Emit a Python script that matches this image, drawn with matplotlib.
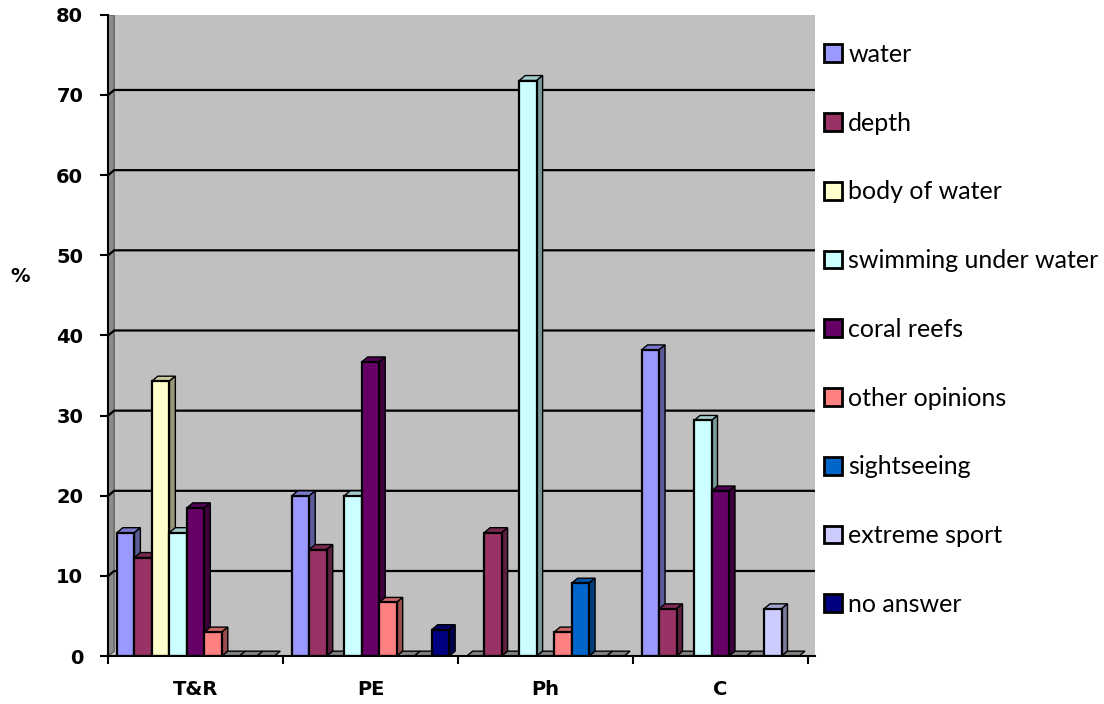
import matplotlib.pyplot as plt
import matplotlib.colors as mcolors
from matplotlib.patches import Polygon, Rectangle
import numpy as np

# data
categories = ["T&R", "PE", "Ph", "C"]
series = ["water", "depth", "body of water", "swimming under water", "coral reefs",
          "other opinions", "sightseeing", "extreme sport", "no answer"]
water = [15.4, 20.0, 0.0, 38.2]
depth = [12.3, 13.3, 15.4, 5.9]
body_of_water = [34.3, 0.0, 0.0, 0.0]
swimming = [15.4, 20.0, 71.8, 29.4]
coral_reefs = [18.5, 36.7, 0.0, 20.6]
other_opinions = [3.0, 6.7, 3.0, 0.0]
sightseeing = [0.0, 0.0, 9.1, 0.0]
extreme_sport = [0.0, 0.0, 0.0, 5.9]
no_answer = [0.0, 3.3, 0.0, 0.0]
values = [water, depth, body_of_water, swimming, coral_reefs,
          other_opinions, sightseeing, extreme_sport, no_answer]
colors = ["#9999FF", "#993366", "#FFFFCC", "#CCFFFF", "#660066",
          "#FF8080", "#0066CC", "#CCCCFF", "#000080"]

fig = plt.figure(figsize=(11.04, 7.04), dpi=100)
ax = fig.add_axes([0.098, 0.068, 0.64, 0.911])

w = 0.1      # bar width
dx = 0.034   # 3d depth, x
dy = 0.62    # 3d depth, y
x0 = np.arange(len(categories))

ax.set_xlim(-0.5, 3.5 + 0.04)
ax.set_ylim(0, 80)
ax.set_facecolor("#C0C0C0")

# left wall and gridlines
ax.add_patch(Polygon([(-0.5, 0), (-0.5 + dx, dy), (-0.5 + dx, 80), (-0.5, 80)],
                     closed=True, fc="#8C8C8C", ec="#606060", lw=1, zorder=1))
for g in range(10, 80, 10):
    ax.plot([-0.5, -0.5 + dx, 3.54], [g, g + dy, g + dy], color="black", lw=1.6, zorder=1.5)

def shade(c, f):
    r, g, b = mcolors.to_rgb(c)
    return (r * f, g * f, b * f)

for i, (vals, c) in enumerate(zip(values, colors)):
    xs = x0 - 0.45 + w / 2 + i * w
    for j, (x, v) in enumerate(zip(xs, vals)):
        z = 2 + i * 0.01 + j * 0.1
        l, r = x - w / 2, x + w / 2
        top_c = shade(c, 0.8) if v > 0 else "#808080"
        ax.add_patch(Polygon([(l, v), (l + dx, v + dy), (r + dx, v + dy), (r, v)],
                             closed=True, fc=top_c, ec="black", lw=1, zorder=z))
        if v > 0:
            ax.add_patch(Polygon([(r, 0), (r + dx, dy), (r + dx, v + dy), (r, v)],
                                 closed=True, fc=shade(c, 0.6), ec="black", lw=1, zorder=z))
            ax.add_patch(Rectangle((l, 0), w, v, fc=c, ec="black", lw=1.6, zorder=z + 0.001))

# legend handles
for s, c in zip(series, colors):
    ax.bar([0], [0], color=c, edgecolor="black", linewidth=2, label=s)

ax.spines["top"].set_visible(False)
ax.spines["right"].set_visible(False)
ax.spines["left"].set_linewidth(1.5)
ax.spines["bottom"].set_linewidth(1.5)

ax.set_yticks(range(0, 81, 10))
ax.set_yticklabels([str(t) for t in range(0, 81, 10)], fontsize=14, fontweight="bold")
ax.set_xticks(x0)
ax.set_xticklabels(categories, fontsize=14, fontweight="bold")
ax.tick_params(axis="x", which="major", length=0, pad=17)
ax.set_xticks(np.arange(-0.5, 4.0, 1.0), minor=True)
ax.tick_params(axis="x", which="minor", length=6, width=1.5)
ax.tick_params(axis="y", length=6, width=1.5, pad=12)

fig.text(20 / 1104, 1 - 276 / 704, "%", ha="center", va="center",
         fontsize=14, fontweight="bold")

handles, labels = ax.get_legend_handles_labels()
fig.legend(handles, labels, loc="upper left", bbox_to_anchor=(0.7464, 0.939),
           frameon=False, prop={"family": "Lato", "size": 18}, labelspacing=1.83,
           handlelength=0.72, handleheight=0.72, handletextpad=0.25,
           borderpad=0, borderaxespad=0)

fig.savefig("out.png", dpi=100)
